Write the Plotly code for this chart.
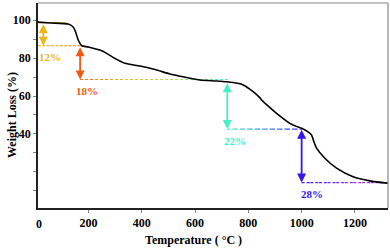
import plotly.graph_objects as go

# ---- data ----
temperature = [11, 60, 124, 142, 150, 156, 162, 168, 175, 200, 250, 300, 337, 394, 450, 506, 560,
               619, 680, 719, 760, 781, 818, 844, 850, 880, 906, 956, 980, 1000, 1020, 1037, 1047,
               1056, 1087, 1131, 1193, 1256, 1324]
weight = [98.9, 98.5, 97.9, 96.5, 94.5, 92.0, 89.5, 87.8, 86.5, 85.8, 83.8, 79.8, 77.2, 75.8, 74.0,
          71.6, 70.0, 68.4, 67.9, 67.5, 66.7, 65.8, 62.3, 59.0, 57.9, 54.0, 50.9, 45.6, 44.0, 43.0,
          41.5, 39.5, 35.5, 32.5, 27.2, 22.0, 17.5, 15.3, 14.0]

x_ticks = [0, 200, 400, 600, 800, 1000, 1200]
y_ticks = [10, 20, 30, 40, 50, 60, 70, 80, 90, 100]
y_ticktext = ["", "", "", "40", "", "60", "", "80", "", "100"]

# weight-loss steps: label, arrow x, top, bottom, label position
step_labels = ["12%", "18%", "22%", "28%"]
step_x = [31, 169, 721, 1000]
step_top = [98.6, 86.5, 67.5, 43.0]
step_bottom = [86.5, 68.7, 42.6, 14.4]
label_x = [56, 196, 750, 1037]
label_y = [80.3, 62.6, 36.3, 8.3]
step_colors = ["#F0B414", "#F05A14", "#48F0C8", "#3A14F0"]

# dashed guide lines: (x0, x1, y, colour stops)
guides = [
    (11, 119, 98.6, ["#F0C020", "#F0C020"]),
    (11, 175, 86.5, ["#F0C020", "#F09020"]),
    (169, 731, 68.7, ["#F06A18", "#E8C030", "#B0E060", "#48F0C8"]),
    (721, 1001, 42.6, ["#48F0C8", "#3A90F0", "#3A20F0"]),
    (1000, 1324, 14.4, ["#3A20F0", "#8030F0", "#C030F0"]),
]

FONT = "Liberation Serif"


def grad(stops, t):
    seg = min(int(t * (len(stops) - 1)), len(stops) - 2)
    u = t * (len(stops) - 1) - seg
    a = [int(stops[seg][i:i + 2], 16) for i in (1, 3, 5)]
    b = [int(stops[seg + 1][i:i + 2], 16) for i in (1, 3, 5)]
    return "rgb(%d,%d,%d)" % tuple(round(a[k] + (b[k] - a[k]) * u) for k in range(3))


fig = go.Figure()

# gradient dashed guides
for x0, x1, yv, stops in guides:
    n = 10
    for i in range(n):
        xa = x0 + (x1 - x0) * i / n
        xb = x0 + (x1 - x0) * (i + 1) / n
        fig.add_trace(go.Scatter(x=[xa, xb], y=[yv, yv], mode="lines",
                                 line=dict(color=grad(stops, (i + 0.5) / n), width=1.2, dash="3px,2px"),
                                 hoverinfo="skip", showlegend=False))

fig.add_trace(go.Scatter(x=temperature, y=weight, mode="lines",
                         line=dict(color="black", width=1.6, shape="spline", smoothing=0.6),
                         showlegend=False))

annotations = []
for lab, xs, yt, yb, lx, ly, col in zip(step_labels, step_x, step_top, step_bottom, label_x, label_y, step_colors):
    annotations.append(dict(x=xs, y=yb, ax=xs, ay=yt, xref="x", yref="y", axref="x", ayref="y",
                            text="", showarrow=True, arrowhead=2, startarrowhead=2,
                            arrowside="end+start", arrowsize=1, startarrowsize=1,
                            arrowwidth=1.8, arrowcolor=col))
    annotations.append(dict(x=lx, y=ly, xref="x", yref="y", text=lab, showarrow=False,
                            font=dict(family=FONT, size=11, color=col, weight="bold")))

# axis titles (positioned in pixels, converted to paper coords below)
annotations.append(dict(x=193, y=240, text="Temperature ( °C )",
                        font=dict(family=FONT, size=12, color="black", weight="bold")))
annotations.append(dict(x=12, y=115, text="Weight Loss (%)", textangle=-90,
                        font=dict(family=FONT, size=12, color="black", weight="bold")))
annotations.append(dict(x=39, y=224, text="0",
                        font=dict(family=FONT, size=12, color="black", weight="bold")))

W, H = 390, 252
L, R, T, B = 38, 2, 3, 44
pw, ph = W - L - R, H - T - B
for a in annotations[-3:]:
    a["x"] = (a["x"] - L) / pw
    a["y"] = 1 - (a["y"] - T) / ph
    a.update(xref="paper", yref="paper", showarrow=False, xanchor="center", yanchor="middle")

fig.update_layout(
    width=W, height=H, margin=dict(l=L, r=R, t=T, b=B, autoexpand=False),
    plot_bgcolor="white", paper_bgcolor="white",
    annotations=annotations,
    xaxis=dict(range=[11, 1324], tickvals=x_ticks, ticks="outside", ticklen=3, tickcolor="#888",
               showgrid=False, zeroline=False, showline=True, linecolor="#222", linewidth=1.5,
               automargin=False,
               tickfont=dict(family=FONT, size=12, color="black", weight="bold")),
    yaxis=dict(range=[1, 109], tickvals=y_ticks, ticktext=y_ticktext, ticks="outside", ticklen=3,
               tickcolor="#888", showgrid=False, zeroline=False, showline=True, linecolor="#222",
               linewidth=1.5, automargin=False,
               tickfont=dict(family=FONT, size=12, color="black", weight="bold")),
    shapes=[
        dict(type="line", xref="paper", yref="paper", x0=0, x1=1, y0=1, y1=1, line=dict(color="#888", width=1.2)),
        dict(type="line", xref="paper", yref="paper", x0=1, x1=1, y0=0, y1=1, line=dict(color="#888", width=1.2)),
    ],
)

fig.write_html("out.html", config={"displayModeBar": False},
               post_script="document.body.style.margin='0px';")
